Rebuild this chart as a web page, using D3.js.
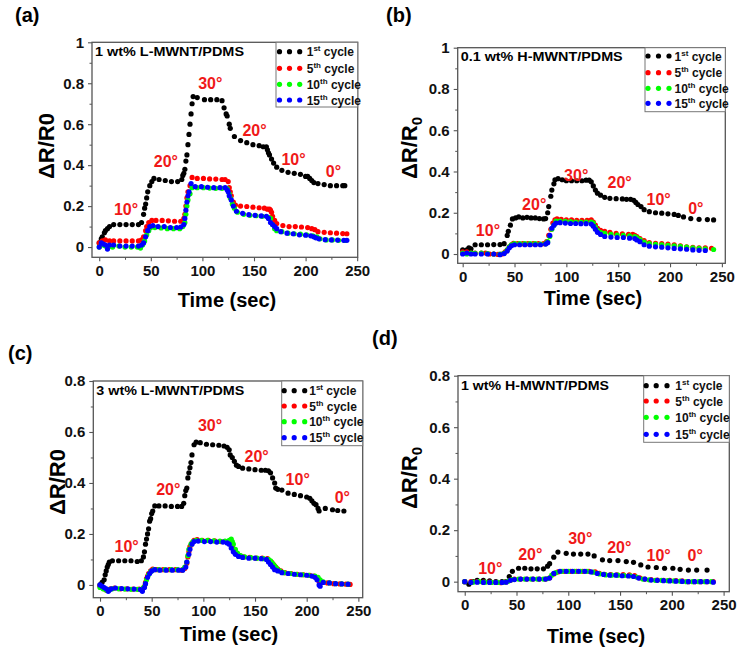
<!DOCTYPE html>
<html><head><meta charset="utf-8">
<script src="https://cdn.jsdelivr.net/npm/d3@7"></script>
<style>
body{margin:0;background:#fff}
svg{display:block}
text{font-family:"Liberation Sans",Arial,sans-serif;font-weight:bold}
</style>
</head><body><svg id="chart" width="745" height="653"></svg>
<script>
// ---------------- DATA ----------------
const cycleNums = ["1","5","10","15"];
const cycleSuffix = ["st","th","th","th"];
const seriesColors = ["#000000","#ff0000","#00ff00","#0000ff"];
const angleLabels = ["10°","20°","30°","20°","10°","0°"];
const xTicks = [0,50,100,150,200,250];
const yTicksTo1 = [0,0.2,0.4,0.6,0.8,1];
const yTicksTo08 = [0,0.2,0.4,0.6,0.8];
const panelTags = ["(a)","(b)","(c)","(d)"];
const panelTitles = ["1 wt% L-MWNT/PDMS","0.1 wt% H-MWNT/PDMS","3 wt% L-MWNT/PDMS","1 wt% H-MWNT/PDMS"];

// panel (a): 1 wt% L-MWNT/PDMS  [time (s), dR/R0]
const a1st = [[0,0.02],[2,0.04],[3,0.05],[5,0.07],[6,0.08],[8,0.09],[10,0.10],[14,0.11],[20,0.11],[26,0.11],[32,0.11],[38,0.11],[41,0.12],[43,0.16],[44,0.19],[45,0.21],[46,0.24],[47,0.27],[49,0.30],[51,0.32],[53,0.335],[58,0.33],[64,0.325],[70,0.32],[76,0.32],[80,0.33],[81,0.35],[82,0.36],[83,0.38],[84,0.42],[85,0.45],[86,0.50],[87,0.55],[88,0.60],[89,0.65],[90,0.70],[91,0.735],[95,0.73],[102,0.72],[108,0.72],[114,0.72],[119,0.715],[121,0.68],[123,0.65],[124,0.64],[126,0.60],[127,0.58],[131,0.54],[137,0.52],[143,0.51],[149,0.50],[155,0.495],[159,0.49],[162,0.49],[163,0.475],[164,0.46],[165,0.45],[167,0.43],[169,0.41],[172,0.39],[177,0.375],[183,0.365],[189,0.36],[195,0.355],[200,0.345],[202,0.345],[204,0.335],[206,0.325],[208,0.315],[212,0.31],[218,0.305],[224,0.30],[230,0.30],[236,0.30],[238,0.30]];
const a5th = [[0,0.02],[3,0.03],[6,0.035],[10,0.03],[14,0.03],[20,0.03],[26,0.03],[32,0.03],[38,0.03],[41,0.035],[43,0.05],[45,0.08],[46,0.10],[48,0.12],[51,0.13],[55,0.13],[61,0.13],[67,0.128],[73,0.126],[79,0.126],[82,0.14],[83,0.16],[84,0.20],[85,0.24],[86,0.27],[88,0.30],[90,0.34],[95,0.335],[101,0.335],[107,0.333],[113,0.332],[119,0.33],[122,0.33],[125,0.32],[126,0.29],[127,0.27],[128,0.25],[130,0.22],[132,0.205],[137,0.20],[143,0.198],[149,0.195],[155,0.192],[160,0.19],[163,0.185],[165,0.185],[166,0.18],[167,0.17],[168,0.15],[170,0.13],[172,0.115],[178,0.105],[184,0.10],[190,0.10],[196,0.098],[202,0.095],[206,0.09],[209,0.085],[212,0.075],[218,0.072],[224,0.07],[230,0.068],[236,0.066],[240,0.065]];
const a10th = [[0,0.0],[3,0.01],[6,0.005],[9,0.0],[13,0.0],[19,0.005],[25,0.0],[31,0.0],[37,0.0],[40,-0.005],[42,0.01],[44,0.03],[46,0.06],[48,0.08],[50,0.095],[54,0.095],[60,0.093],[66,0.09],[72,0.09],[78,0.09],[81,0.10],[83,0.12],[84,0.16],[85,0.20],[86,0.23],[88,0.26],[90,0.29],[95,0.29],[101,0.29],[107,0.288],[113,0.287],[119,0.287],[124,0.285],[126,0.26],[127,0.24],[129,0.21],[131,0.19],[134,0.17],[140,0.16],[146,0.155],[152,0.153],[158,0.15],[164,0.145],[166,0.14],[168,0.11],[170,0.09],[172,0.08],[177,0.075],[183,0.068],[189,0.065],[195,0.063],[201,0.06],[207,0.055],[211,0.05],[214,0.04],[220,0.035],[226,0.035],[232,0.033],[238,0.032]];
const a15th = [[0,0.0],[2,0.02],[4,0.015],[6,0.01],[8,-0.01],[10,0.01],[14,0.01],[20,0.005],[26,0.005],[32,0.005],[38,0.005],[41,0.01],[43,0.02],[45,0.05],[47,0.08],[49,0.10],[52,0.105],[57,0.10],[63,0.10],[69,0.095],[75,0.095],[79,0.098],[82,0.11],[83,0.14],[84,0.18],[85,0.22],[86,0.25],[87,0.27],[89,0.31],[93,0.295],[99,0.295],[105,0.292],[111,0.29],[117,0.29],[122,0.29],[124,0.28],[125,0.27],[126,0.25],[128,0.23],[130,0.20],[133,0.175],[139,0.165],[145,0.158],[151,0.155],[157,0.152],[162,0.15],[164,0.14],[166,0.12],[168,0.11],[170,0.10],[172,0.09],[176,0.075],[182,0.068],[188,0.065],[194,0.06],[200,0.058],[205,0.055],[208,0.05],[210,0.045],[213,0.04],[219,0.036],[225,0.035],[231,0.034],[237,0.033],[240,0.033]];

// panel (b): 0.1 wt% H-MWNT/PDMS
const b1st = [[0,0.02],[4,0.02],[6,0.03],[8,0.025],[12,0.045],[18,0.045],[24,0.045],[30,0.046],[36,0.046],[40,0.05],[43,0.09],[44,0.11],[46,0.14],[48,0.17],[51,0.175],[54,0.18],[58,0.175],[62,0.178],[66,0.175],[70,0.175],[74,0.172],[78,0.17],[80,0.172],[82,0.20],[83,0.23],[85,0.28],[86,0.31],[88,0.34],[89,0.36],[92,0.365],[96,0.36],[100,0.355],[105,0.355],[110,0.355],[115,0.355],[119,0.358],[122,0.358],[124,0.35],[126,0.33],[128,0.31],[130,0.295],[133,0.285],[137,0.275],[142,0.27],[148,0.268],[154,0.267],[158,0.265],[162,0.265],[165,0.26],[167,0.25],[169,0.24],[172,0.23],[175,0.215],[180,0.205],[186,0.20],[192,0.198],[198,0.195],[204,0.192],[208,0.187],[213,0.18],[220,0.172],[228,0.168],[236,0.167],[242,0.165]];
const b5th = [[0,0.01],[4,0.01],[8,0.005],[12,0.005],[18,0.005],[22,0.005],[26,0.0],[30,0.0],[34,-0.002],[38,0.0],[41,0.01],[43,0.02],[45,0.035],[47,0.045],[49,0.052],[53,0.05],[58,0.05],[63,0.05],[68,0.05],[73,0.05],[78,0.05],[81,0.06],[83,0.09],[85,0.12],[87,0.15],[89,0.165],[91,0.17],[95,0.168],[100,0.165],[105,0.165],[110,0.163],[115,0.163],[120,0.163],[124,0.165],[126,0.155],[128,0.14],[130,0.125],[133,0.115],[137,0.11],[142,0.105],[148,0.10],[154,0.098],[160,0.095],[164,0.095],[166,0.09],[168,0.085],[171,0.075],[175,0.065],[180,0.055],[186,0.052],[192,0.05],[198,0.048],[204,0.045],[210,0.04],[216,0.035],[222,0.032],[228,0.03],[234,0.03],[240,0.028]];
const b10th = [[0,0.005],[4,0.0],[8,0.005],[12,0.003],[18,0.005],[24,0.002],[30,0.0],[36,0.0],[40,0.005],[43,0.02],[45,0.035],[47,0.045],[50,0.05],[55,0.05],[60,0.05],[65,0.05],[70,0.05],[75,0.048],[80,0.05],[82,0.06],[84,0.085],[86,0.12],[88,0.14],[90,0.16],[94,0.16],[99,0.158],[104,0.157],[109,0.155],[114,0.155],[119,0.155],[124,0.155],[126,0.15],[128,0.13],[130,0.115],[133,0.105],[137,0.10],[143,0.095],[149,0.092],[155,0.09],[161,0.088],[166,0.085],[168,0.08],[171,0.07],[175,0.058],[180,0.05],[186,0.047],[192,0.045],[198,0.042],[204,0.04],[210,0.037],[216,0.033],[222,0.03],[228,0.028],[234,0.025],[242,0.022]];
const b15th = [[0,0.0],[4,0.005],[8,0.0],[12,0.0],[18,0.0],[24,0.0],[30,0.0],[36,-0.003],[40,0.002],[43,0.015],[45,0.03],[47,0.04],[50,0.045],[55,0.045],[60,0.045],[65,0.045],[70,0.045],[75,0.045],[80,0.048],[82,0.055],[84,0.09],[86,0.125],[88,0.14],[90,0.15],[94,0.152],[99,0.15],[104,0.148],[109,0.148],[114,0.147],[119,0.147],[124,0.145],[126,0.135],[128,0.12],[130,0.105],[133,0.095],[137,0.085],[143,0.082],[149,0.08],[155,0.08],[161,0.077],[166,0.075],[168,0.068],[171,0.06],[175,0.045],[180,0.038],[186,0.035],[192,0.033],[198,0.03],[204,0.027],[210,0.025],[216,0.023],[222,0.02],[228,0.018],[234,0.017]];

// panel (c): 3 wt% L-MWNT/PDMS
const c1st = [[0,0.0],[2,0.01],[4,0.02],[5,0.04],[6,0.055],[7,0.07],[8,0.08],[9,0.09],[12,0.095],[18,0.095],[24,0.095],[30,0.095],[36,0.092],[40,0.095],[42,0.11],[43,0.13],[44,0.16],[45,0.18],[46,0.20],[47,0.22],[48,0.25],[49,0.26],[50,0.28],[51,0.29],[53,0.31],[57,0.31],[63,0.31],[69,0.308],[75,0.308],[79,0.308],[81,0.32],[82,0.35],[83,0.37],[84,0.38],[85,0.42],[86,0.44],[87,0.46],[88,0.48],[89,0.51],[91,0.55],[93,0.56],[97,0.558],[103,0.552],[109,0.55],[115,0.548],[120,0.545],[123,0.54],[125,0.53],[126,0.51],[128,0.50],[130,0.485],[132,0.47],[134,0.465],[138,0.458],[144,0.455],[150,0.452],[156,0.45],[160,0.45],[163,0.448],[165,0.44],[167,0.42],[169,0.40],[170,0.38],[172,0.375],[176,0.372],[182,0.36],[188,0.355],[194,0.35],[200,0.345],[203,0.34],[205,0.33],[207,0.32],[209,0.315],[211,0.30],[212,0.29],[218,0.30],[225,0.295],[230,0.292],[236,0.29]];
const c5th = [[0,-0.005],[2,-0.01],[4,-0.015],[6,-0.02],[8,-0.02],[10,-0.015],[14,-0.012],[20,-0.015],[26,-0.015],[32,-0.016],[38,-0.016],[41,-0.018],[43,-0.005],[44,0.01],[45,0.025],[46,0.035],[47,0.045],[49,0.055],[51,0.062],[55,0.06],[61,0.06],[67,0.06],[73,0.06],[79,0.058],[82,0.065],[84,0.085],[85,0.11],[86,0.13],[87,0.15],[89,0.165],[91,0.175],[94,0.178],[99,0.175],[105,0.175],[111,0.173],[117,0.17],[122,0.17],[125,0.168],[127,0.16],[128,0.15],[130,0.135],[132,0.125],[135,0.115],[139,0.11],[145,0.108],[151,0.105],[157,0.105],[162,0.103],[164,0.095],[166,0.09],[168,0.08],[170,0.07],[172,0.062],[175,0.055],[179,0.048],[185,0.045],[191,0.042],[197,0.04],[203,0.038],[207,0.035],[210,0.025],[212,0.015],[215,0.01],[220,0.008],[226,0.005],[232,0.004],[238,0.003],[242,0.002]];
const c10th = [[0,-0.01],[3,-0.015],[6,-0.02],[9,-0.018],[12,-0.015],[18,-0.015],[24,-0.016],[30,-0.017],[36,-0.017],[40,-0.018],[42,-0.01],[44,0.005],[45,0.02],[47,0.04],[49,0.052],[52,0.06],[57,0.06],[63,0.06],[69,0.06],[75,0.06],[80,0.06],[82,0.07],[84,0.09],[85,0.115],[86,0.14],[88,0.16],[90,0.17],[93,0.175],[98,0.175],[104,0.175],[110,0.173],[116,0.172],[121,0.172],[125,0.175],[127,0.18],[128,0.17],[129,0.16],[131,0.14],[133,0.125],[136,0.115],[140,0.11],[146,0.107],[152,0.105],[158,0.103],[163,0.10],[165,0.095],[167,0.085],[169,0.075],[171,0.065],[174,0.055],[178,0.048],[184,0.045],[190,0.042],[196,0.04],[202,0.038],[208,0.035],[211,0.03],[213,0.02],[216,0.012],[222,0.008],[228,0.005],[234,0.004],[240,0.003]];
const c15th = [[0,0.0],[2,-0.005],[4,-0.01],[6,-0.015],[8,-0.025],[9,-0.02],[11,-0.015],[15,-0.012],[21,-0.014],[27,-0.015],[33,-0.016],[39,-0.018],[41,-0.025],[43,-0.01],[44,0.005],[46,0.03],[48,0.045],[50,0.055],[53,0.06],[58,0.058],[64,0.058],[70,0.058],[76,0.058],[80,0.058],[83,0.07],[84,0.09],[86,0.12],[87,0.14],[89,0.16],[91,0.17],[95,0.172],[101,0.17],[107,0.17],[113,0.168],[119,0.168],[123,0.165],[125,0.16],[127,0.145],[129,0.13],[131,0.12],[134,0.112],[138,0.108],[144,0.105],[150,0.105],[156,0.103],[161,0.10],[163,0.09],[165,0.08],[167,0.07],[169,0.06],[172,0.055],[176,0.048],[182,0.045],[188,0.042],[194,0.04],[200,0.038],[205,0.035],[208,0.03],[210,0.02],[212,0.0],[213,-0.005],[216,0.01],[222,0.008],[228,0.005],[234,0.004],[240,0.003]];

// panel (d): 1 wt% H-MWNT/PDMS
const d1st = [[0,0.0],[4,-0.01],[8,0.0],[12,0.005],[18,0.005],[24,0.003],[30,0.0],[36,0.0],[40,0.0],[43,0.02],[46,0.04],[52,0.052],[58,0.052],[64,0.05],[70,0.05],[76,0.05],[80,0.06],[82,0.07],[86,0.095],[90,0.115],[98,0.11],[105,0.107],[112,0.107],[119,0.107],[125,0.10],[133,0.085],[140,0.082],[148,0.082],[156,0.078],[163,0.075],[170,0.065],[177,0.057],[185,0.055],[193,0.052],[201,0.052],[208,0.048],[216,0.045],[224,0.045],[234,0.045]];
const d5th = [[0,0.0],[6,0.0],[12,0.0],[18,-0.002],[24,-0.002],[30,-0.003],[35,-0.004],[40,0.0],[44,0.005],[48,0.01],[54,0.01],[60,0.01],[66,0.01],[72,0.01],[78,0.01],[82,0.015],[86,0.03],[90,0.038],[96,0.04],[102,0.04],[108,0.04],[114,0.04],[120,0.04],[126,0.038],[130,0.032],[135,0.028],[141,0.027],[147,0.026],[153,0.027],[159,0.026],[164,0.024],[169,0.015],[174,0.01],[180,0.008],[186,0.006],[192,0.005],[198,0.005],[204,0.004],[210,0.003],[216,0.0],[222,0.0],[228,0.0],[234,0.0],[240,0.0]];
const d10th = [[0,0.0],[8,-0.002],[14,0.0],[20,-0.002],[26,-0.003],[32,-0.003],[38,-0.002],[42,0.002],[46,0.008],[52,0.01],[58,0.01],[64,0.01],[70,0.01],[76,0.01],[80,0.012],[84,0.025],[88,0.035],[94,0.04],[100,0.04],[106,0.04],[112,0.04],[118,0.04],[124,0.037],[130,0.03],[136,0.026],[142,0.025],[148,0.025],[154,0.024],[160,0.023],[166,0.018],[172,0.01],[178,0.007],[184,0.005],[190,0.005],[196,0.004],[202,0.003],[208,0.002],[214,0.0],[220,0.0],[226,0.0],[232,0.0],[238,0.0]];
const d15th = [[0,0.0],[6,-0.003],[12,-0.002],[18,-0.003],[24,-0.003],[30,-0.003],[36,-0.003],[40,-0.002],[44,0.005],[48,0.008],[54,0.01],[60,0.01],[66,0.01],[72,0.01],[78,0.01],[82,0.014],[86,0.032],[92,0.04],[98,0.04],[104,0.04],[110,0.04],[116,0.04],[122,0.038],[128,0.032],[134,0.028],[140,0.025],[146,0.025],[152,0.023],[158,0.022],[163,0.02],[168,0.014],[174,0.01],[180,0.006],[186,0.005],[192,0.004],[198,0.003],[204,0.002],[210,0.001],[216,0.0],[222,0.0],[228,0.0],[234,0.0],[240,-0.002]];

// angle annotation anchor positions [time, value] per panel
const annA = [[26,0.183],[64.6,0.417],[107.6,0.799],[150.5,0.570],[188.3,0.431],[227,0.368]];
const annB = [[24.4,0.113],[69,0.241],[109.5,0.383],[151.4,0.346],[189,0.267],[224.9,0.222]];
const annC = [[25.8,0.150],[66.1,0.375],[106.5,0.627],[151.6,0.506],[191.3,0.415],[234.5,0.346]];
const annD = [[24.7,0.052],[63.3,0.106],[111.6,0.169],[149.2,0.134],[187.3,0.104],[222.6,0.104]];

// ---------------- LAYOUT ----------------
const panels = [
  {tag:0, tagX:15, tagY:22, left:92, right:357.7, top:42.3, bottom:257.3, xDom:[-7,250.5], yDom:[-0.05,1.0], yTicks:yTicksTo1,
   series:[a1st,a5th,a10th,a15th], ann:annA, sub:false, yTX:46, yTY:146, xTX:227, xTY:307, titleW:149,
   leg:{left:276, bottom:107, rows:[51.7,68.3,84.3,100], dots:[2.5,12.5,22.7], tx:30.7}},
  {tag:1, tagX:386, tagY:22, left:457.7, right:725.3, top:47.7, bottom:263.3, xDom:[-4.8,253.3], yDom:[-0.045,1.0], yTicks:yTicksTo1,
   series:[b1st,b5th,b10th,b15th], ann:annB, sub:true, yTX:409, yTY:148, xTX:593, xTY:305, titleW:162,
   leg:{left:645, bottom:111.7, rows:[56,72.7,88.3,103.3], dots:[2,12.5,23], tx:29.5}},
  {tag:2, tagX:8, tagY:360, left:93.3, right:362.7, top:381, bottom:597.7, xDom:[-6.5,254.2], yDom:[-0.05,0.8], yTicks:yTicksTo08,
   series:[c1st,c5th,c10th,c15th], ann:annC, sub:false, yTX:57, yTY:482, xTX:229, xTY:641, titleW:148,
   leg:{left:281.7, bottom:445.7, rows:[390.7,406,421.7,437.7], dots:[1.5,11.5,22], tx:27.5}},
  {tag:3, tagX:372, tagY:345, left:458, right:729.3, top:375.7, bottom:591.7, xDom:[-6.5,255.5], yDom:[-0.039,0.8], yTicks:yTicksTo08,
   series:[d1st,d5th,d10th,d15th], ann:annD, sub:true, yTX:409, yTY:478, xTX:596, xTY:643, titleW:148,
   leg:{left:643.7, bottom:442.3, rows:[385.7,401,417.3,434.3], dots:[1.5,11.5,22.3], tx:31.6}}
];

const svg = d3.select("#chart");
const frameColor = "#555";
const fmt = d => (d === 0 ? "0" : String(d));

panels.forEach(p => {
  const x = d3.scaleLinear().domain(p.xDom).range([p.left, p.right]);
  const y = d3.scaleLinear().domain(p.yDom).range([p.bottom, p.top]);
  const g = svg.append("g");

  // panel tag
  g.append("text").attr("x", p.tagX).attr("y", p.tagY).attr("font-size", 20).text(panelTags[p.tag]);

  // minor ticks
  const xMinor = xTicks.slice(0, -1).map(v => v + 25);
  const yMinor = p.yTicks.slice(0, -1).map(v => +(v + 0.1).toFixed(2));
  g.append("g").attr("transform", `translate(0,${p.bottom})`)
    .call(d3.axisBottom(x).tickValues(xMinor).tickSize(2.5).tickSizeOuter(0).tickFormat(""))
    .call(s => { s.select(".domain").remove(); s.selectAll("line").attr("stroke", frameColor); });
  g.append("g").attr("transform", `translate(${p.left},0)`)
    .call(d3.axisLeft(y).tickValues(yMinor).tickSize(2.5).tickSizeOuter(0).tickFormat(""))
    .call(s => { s.select(".domain").remove(); s.selectAll("line").attr("stroke", frameColor); });

  // major axes
  g.append("g").attr("transform", `translate(0,${p.bottom})`)
    .call(d3.axisBottom(x).tickValues(xTicks).tickSize(4).tickPadding(4).tickSizeOuter(0).tickFormat(fmt))
    .call(s => {
      s.select(".domain").remove();
      s.selectAll("line").attr("stroke", frameColor).attr("stroke-width", 1.1);
      s.selectAll("text").attr("font-size", 15).attr("font-family", null).attr("fill", "#111");
    });
  g.append("g").attr("transform", `translate(${p.left},0)`)
    .call(d3.axisLeft(y).tickValues(p.yTicks).tickSize(4).tickPadding(4).tickSizeOuter(0).tickFormat(fmt))
    .call(s => {
      s.select(".domain").remove();
      s.selectAll("line").attr("stroke", frameColor).attr("stroke-width", 1.1);
      s.selectAll("text").attr("font-size", 15).attr("font-family", null).attr("fill", "#111");
    });

  // frame
  g.append("rect").attr("x", p.left).attr("y", p.top)
    .attr("width", p.right - p.left).attr("height", p.bottom - p.top)
    .attr("fill", "none").attr("stroke", frameColor).attr("stroke-width", 1.3);

  // inner title
  g.append("text").attr("x", p.left + 3).attr("y", p.leg.rows[0]).attr("dy", "0.35em")
    .attr("font-size", 13).attr("textLength", p.titleW).attr("lengthAdjust", "spacingAndGlyphs")
    .text(panelTitles[p.tag]);

  // legend box
  g.append("rect").attr("x", p.leg.left).attr("y", p.top)
    .attr("width", p.right - p.leg.left).attr("height", p.leg.bottom - p.top)
    .attr("fill", "#fff").attr("stroke", "#777").attr("stroke-width", 1);

  // series dots
  p.series.forEach((ser, i) => {
    g.append("g").selectAll("circle").data(ser).join("circle")
      .attr("cx", d => x(d[0])).attr("cy", d => y(d[1])).attr("r", 2.6)
      .attr("fill", seriesColors[i]);
  });

  // legend entries
  p.series.forEach((ser, i) => {
    const ry = p.leg.rows[i];
    p.leg.dots.forEach(dx => {
      g.append("circle").attr("cx", p.leg.left + dx + 1).attr("cy", ry).attr("r", 2.6).attr("fill", seriesColors[i]);
    });
    const t = g.append("text").attr("x", p.leg.left + p.leg.tx).attr("y", ry + 4.5).attr("font-size", 12).attr("fill", "#111");
    t.append("tspan").text(cycleNums[i]);
    t.append("tspan").attr("font-size", 8).attr("dy", -5).text(cycleSuffix[i]);
    t.append("tspan").attr("dy", 5).text(" cycle");
  });

  // angle annotations
  p.ann.forEach((a, i) => {
    g.append("text").attr("x", x(a[0])).attr("y", y(a[1])).attr("dy", "0.36em")
      .attr("text-anchor", "middle").attr("font-size", 16).attr("fill", "#f01818")
      .text(angleLabels[i]);
  });

  // y title
  const yt = g.append("text").attr("transform", `translate(${p.yTX},${p.yTY}) rotate(-90)`)
    .attr("text-anchor", "middle").attr("dy", "0.36em").attr("font-size", 22);
  if (p.sub) {
    yt.append("tspan").text("ΔR/R");
    yt.append("tspan").attr("font-size", 15).attr("dy", 5).text("0");
  } else {
    yt.text("ΔR/R0");
  }

  // x title
  g.append("text").attr("x", p.xTX).attr("y", p.xTY).attr("text-anchor", "middle")
    .attr("font-size", 20).text("Time (sec)");
});
</script>
</body></html>
